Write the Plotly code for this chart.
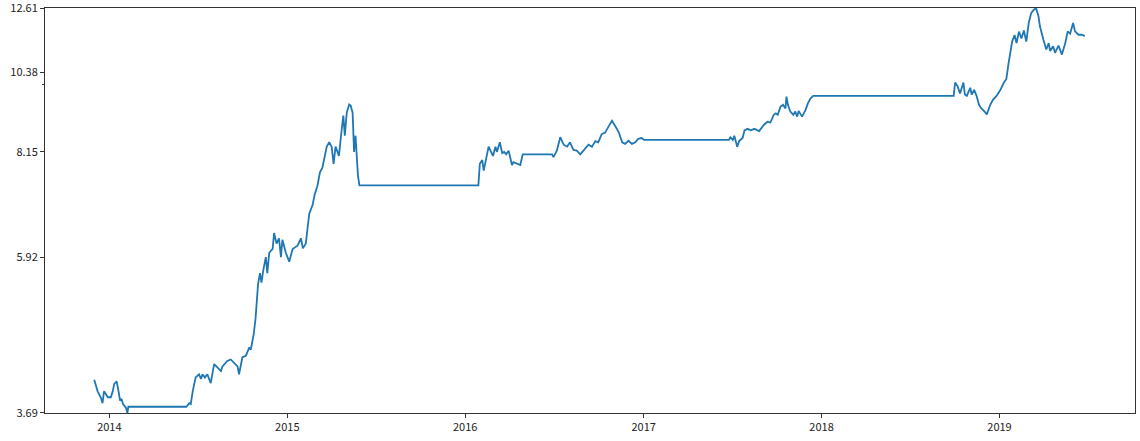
"""Price line on a log axis, rebuilt in Plotly."""
import numpy as np
import plotly.graph_objects as go

# trading dates and closing values
DATES = [
    "2013-12-01", "2013-12-08", "2013-12-15", "2013-12-18", "2013-12-21", "2013-12-25",
    "2013-12-29", "2014-01-04", "2014-01-08", "2014-01-11", "2014-01-16", "2014-01-19",
    "2014-01-23", "2014-01-26", "2014-01-29", "2014-02-04", "2014-02-07", "2014-02-09",
    "2014-06-08", "2014-06-14", "2014-06-17", "2014-06-21", "2014-06-27", "2014-07-04",
    "2014-07-08", "2014-07-11", "2014-07-16", "2014-07-21", "2014-07-28", "2014-08-04",
    "2014-08-11", "2014-08-18", "2014-08-21", "2014-08-31", "2014-09-07", "2014-09-14",
    "2014-09-21", "2014-09-24", "2014-10-01", "2014-10-08", "2014-10-15", "2014-10-18",
    "2014-10-24", "2014-10-28", "2014-11-02", "2014-11-06", "2014-11-09", "2014-11-13",
    "2014-11-18", "2014-11-21", "2014-11-25", "2014-12-02", "2014-12-05", "2014-12-10",
    "2014-12-15", "2014-12-19", "2014-12-22", "2014-12-29", "2015-01-05", "2015-01-12",
    "2015-01-22", "2015-01-29", "2015-02-02", "2015-02-08", "2015-02-15", "2015-02-22",
    "2015-02-26", "2015-03-04", "2015-03-09", "2015-03-14", "2015-03-19", "2015-03-23",
    "2015-03-28", "2015-04-02", "2015-04-06", "2015-04-10", "2015-04-14", "2015-04-17",
    "2015-04-22", "2015-04-26", "2015-04-29", "2015-05-03", "2015-05-08", "2015-05-11",
    "2015-05-15", "2015-05-18", "2015-05-21", "2015-05-23", "2015-05-26", "2015-05-29",
    "2016-01-28", "2016-01-31", "2016-02-05", "2016-02-08", "2016-02-13", "2016-02-18",
    "2016-02-23", "2016-02-27", "2016-03-03", "2016-03-06", "2016-03-12", "2016-03-17",
    "2016-03-21", "2016-03-25", "2016-03-30", "2016-04-03", "2016-04-06", "2016-04-09",
    "2016-04-16", "2016-04-23", "2016-04-28", "2016-05-03", "2016-06-27", "2016-06-30",
    "2016-07-07", "2016-07-14", "2016-07-21", "2016-07-28", "2016-08-03", "2016-08-10",
    "2016-08-17", "2016-08-24", "2016-08-31", "2016-09-10", "2016-09-17", "2016-09-24",
    "2016-09-30", "2016-10-07", "2016-10-14", "2016-10-21", "2016-10-28", "2016-11-04",
    "2016-11-11", "2016-11-18", "2016-11-24", "2016-12-01", "2016-12-08", "2016-12-15",
    "2016-12-21", "2016-12-28", "2017-01-02", "2017-06-25", "2017-06-28", "2017-07-03",
    "2017-07-06", "2017-07-12", "2017-07-16", "2017-07-23", "2017-07-27", "2017-08-02",
    "2017-08-09", "2017-08-16", "2017-08-26", "2017-09-05", "2017-09-12", "2017-09-18",
    "2017-09-25", "2017-09-29", "2017-10-03", "2017-10-09", "2017-10-14", "2017-10-19",
    "2017-10-21", "2017-10-24", "2017-10-29", "2017-11-04", "2017-11-08", "2017-11-12",
    "2017-11-15", "2017-11-22", "2017-11-29", "2017-12-04", "2017-12-09", "2017-12-15",
    "2018-09-29", "2018-10-02", "2018-10-07", "2018-10-12", "2018-10-19", "2018-10-22",
    "2018-10-26", "2018-11-02", "2018-11-05", "2018-11-10", "2018-11-15", "2018-11-20",
    "2018-11-25", "2018-12-02", "2018-12-06", "2018-12-13", "2018-12-19", "2018-12-26",
    "2019-01-03", "2019-01-10", "2019-01-15", "2019-01-20", "2019-01-27", "2019-02-01",
    "2019-02-05", "2019-02-10", "2019-02-15", "2019-02-20", "2019-02-25", "2019-03-02",
    "2019-03-07", "2019-03-12", "2019-03-17", "2019-03-22", "2019-03-25", "2019-04-01",
    "2019-04-07", "2019-04-12", "2019-04-15", "2019-04-21", "2019-04-25", "2019-05-02",
    "2019-05-09", "2019-05-16", "2019-05-21", "2019-05-26", "2019-06-01", "2019-06-05",
    "2019-06-12", "2019-06-19", "2019-06-25",
]
PRICES = [
    4.08, 3.94, 3.86, 3.80, 3.94, 3.90,
    3.87, 3.87, 3.94, 4.03, 4.06, 3.97,
    3.83, 3.85, 3.79, 3.75, 3.69, 3.76,
    3.76, 3.80, 3.79, 3.94, 4.11, 4.15,
    4.09, 4.15, 4.11, 4.15, 4.04, 4.28,
    4.23, 4.19, 4.25, 4.32, 4.34, 4.29,
    4.25, 4.15, 4.37, 4.39, 4.50, 4.47,
    4.68, 4.92, 5.45, 5.64, 5.48, 5.70,
    5.92, 5.64, 6.00, 6.07, 6.37, 6.17,
    6.27, 5.92, 6.24, 6.00, 5.84, 6.07,
    6.13, 6.27, 6.08, 6.17, 6.75, 6.94,
    7.15, 7.36, 7.66, 7.77, 8.07, 8.28,
    8.39, 8.28, 7.86, 8.28, 8.15, 8.05,
    8.65, 9.10, 8.56, 9.18, 9.41, 9.38,
    9.18, 8.15, 8.56, 8.15, 7.58, 7.36,
    7.36, 7.86, 7.95, 7.70, 8.00, 8.28,
    8.15, 8.05, 8.28, 8.15, 8.39, 8.12,
    8.15, 8.09, 8.18, 7.95, 7.83, 7.90,
    7.86, 7.83, 8.09, 8.09, 8.09, 8.02,
    8.18, 8.52, 8.33, 8.28, 8.39, 8.20,
    8.18, 8.09, 8.20, 8.33, 8.28, 8.42,
    8.39, 8.60, 8.64, 8.78, 8.96, 8.81,
    8.65, 8.39, 8.35, 8.43, 8.35, 8.39,
    8.48, 8.50, 8.45, 8.45, 8.52, 8.45,
    8.56, 8.28, 8.42, 8.50, 8.70, 8.74,
    8.70, 8.74, 8.68, 8.85, 8.93, 8.91,
    9.12, 9.16, 9.12, 9.35, 9.40, 9.30,
    9.64, 9.40, 9.21, 9.12, 9.21, 9.07,
    9.23, 9.07, 9.25, 9.44, 9.58, 9.66,
    9.66, 10.06, 9.95, 9.73, 10.06, 9.70,
    9.66, 9.90, 9.70, 9.84, 9.66, 9.40,
    9.30, 9.20, 9.13, 9.40, 9.55, 9.66,
    9.84, 10.06, 10.16, 10.70, 11.39, 11.62,
    11.34, 11.74, 11.50, 11.78, 11.39, 12.05,
    12.42, 12.54, 12.61, 12.30, 11.93, 11.46,
    11.12, 11.34, 11.07, 11.23, 11.01, 11.25,
    10.95, 11.34, 11.75, 11.67, 12.05, 11.75,
    11.63, 11.63, 11.58,
]
YEAR_TICKS = ["2014-01-01", "2015-01-01", "2016-01-01", "2017-01-01",
              "2018-01-01", "2019-01-01"]
YEAR_LABELS = ["2014", "2015", "2016", "2017", "2018", "2019"]

LINE_COLOR = "#1f77b4"
FONT = "Noto Sans CJK SC, DejaVu Sans, sans-serif"

y_min, y_max = min(PRICES), max(PRICES)
y_ticks = np.linspace(y_min, y_max, 5)
pad = 1e-4  # keep the edge ticks inside the range

fig = go.Figure()
fig.add_trace(go.Scatter(
    x=DATES,
    y=PRICES,
    mode="lines",
    line=dict(color=LINE_COLOR, width=1.8),
    showlegend=False,
    hoverinfo="x+y",
))

axis_common = dict(
    showline=True,
    linecolor="#333",
    linewidth=1,
    mirror=True,
    showgrid=False,
    zeroline=False,
    automargin=False,
    ticklabeloverflow="allow",
    ticks="outside",
    ticklen=4,
    tickwidth=1,
    tickcolor="#333",
    tickfont=dict(family=FONT, size=11, color="#222"),
)

fig.update_layout(
    width=1140,
    height=441,
    margin=dict(l=45, r=5, t=8, b=28),
    paper_bgcolor="white",
    plot_bgcolor="white",
    xaxis=dict(
        type="date",
        range=["2013-08-22", "2019-10-06"],
        tickvals=YEAR_TICKS,
        ticktext=YEAR_LABELS,
        **axis_common,
    ),
    yaxis=dict(
        type="log",
        range=[np.log10(y_min) - pad, np.log10(y_max) + pad],
        tickvals=list(y_ticks),
        ticktext=[f"{v:.2f}" for v in y_ticks],
        minor=dict(tickmode="array", tickvals=[10], ticks="outside",
                   ticklen=2, tickcolor="#333"),
        **axis_common,
    ),
)

# page body has an 8px default margin; drop it so the chart sits at 0,0
fig.write_html(
    "out.html",
    config={"displayModeBar": False},
    post_script="document.body.style.margin='0';",
)
